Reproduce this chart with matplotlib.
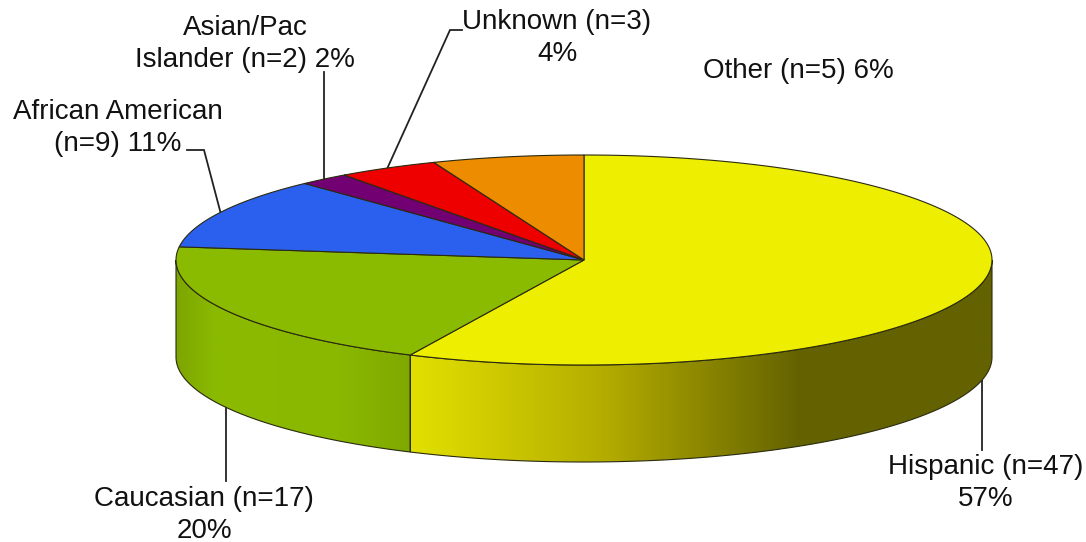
#!/usr/bin/env python3

"""
Ethnicity breakdown - fake 3D pie, drawn in pixel coordinates
"""

import numpy as np
import matplotlib
matplotlib.use("Agg")
import matplotlib.pyplot as plt
from matplotlib.colors import LinearSegmentedColormap
from matplotlib.patches import Polygon

plt.rcParams['font.family'] = ['Liberation Sans', 'DejaVu Sans']

# data, clockwise from 12 o'clock
categories = ["Hispanic", "Caucasian", "African American", "Asian/Pac Islander", "Unknown", "Other"]
counts = [47, 17, 9, 2, 3, 5]
percents = [57, 20, 11, 2, 4, 6]
top_colors = ["#EEEE00", "#8BBB00", "#2B5FEE", "#720072", "#EE0000", "#EE8C00"]

# side shading, (x pixel, colour)
hispanic_side = [(410, "#E2E000"), (600, "#B5AE00"), (700, "#8C8800"), (800, "#646200"), (992, "#646200")]
caucasian_side = [(176, "#7DA500"), (215, "#8ABA00"), (340, "#8AB800"), (412, "#7FA800")]

CX, CY = 584, 260
RX, RY = 408, 105
DEPTH = 97
FONT = 20.0
EDGE = "#2a2a10"
LEADER = "#222222"


def rim(angles):
    a = np.radians(angles)
    return CX + RX * np.sin(a), CY - RY * np.cos(a)


def arc(a1, a2):
    return rim(np.linspace(a1, a2, 200))


def draw_side(ax, a1, a2, stops):
    x, y = arc(a1, a2)
    verts = np.column_stack([np.r_[x, x[::-1]], np.r_[y, y[::-1] + DEPTH]])
    poly = Polygon(verts, closed=True, facecolor="none", edgecolor=EDGE, linewidth=0.8, zorder=3)
    ax.add_patch(poly)

    x0, x1 = stops[0][0], stops[-1][0]
    cmap = LinearSegmentedColormap.from_list(
        "side", [((px - x0) / (x1 - x0), c) for px, c in stops])
    im = ax.imshow(np.linspace(0, 1, 512).reshape(1, -1), cmap=cmap, aspect="auto",
                   extent=(x0, x1, 480, 150), zorder=2)
    im.set_clip_path(poly)


def leader(ax, *points):
    xs, ys = zip(*points)
    ax.plot(xs, ys, color=LEADER, linewidth=1.3, zorder=1, solid_joinstyle="miter")


fig = plt.figure(figsize=(10.86, 5.42), dpi=100)
fig.patch.set_facecolor('white')
ax = fig.add_axes([0, 0, 1, 1])

edges = np.cumsum([0] + percents) / sum(percents) * 360
mids = (edges[:-1] + edges[1:]) / 2

draw_side(ax, 90, edges[1], hispanic_side)
draw_side(ax, edges[1], 270, caucasian_side)

for i, color in enumerate(top_colors):
    x, y = arc(edges[i], edges[i + 1])
    verts = np.column_stack([np.r_[CX, x], np.r_[CY, y]])
    ax.add_patch(Polygon(verts, closed=True, facecolor=color, edgecolor=EDGE,
                         linewidth=0.8, zorder=4))

# leaders start on the rim at the middle of each slice
hx, hy = rim(mids[0])
leader(ax, (hx, hy + DEPTH), (hx, 450))
cx_, cy_ = rim(mids[1])
leader(ax, (cx_, cy_ + DEPTH), (cx_, 481))
leader(ax, rim(mids[2]), (204, 150), (187, 150))
leader(ax, rim(mids[3]), (rim(mids[3])[0], 72))
leader(ax, rim(mids[4]), (450, 30), (462, 30))

labels = [
    (986, 483, f"{categories[0]} (n={counts[0]})\n{percents[0]}%"),
    (204, 515, f"{categories[1]} (n={counts[1]})\n{percents[1]}%"),
    (118, 128, f"African American\n(n={counts[2]}) {percents[2]}%"),
    (245, 44, f"Asian/Pac\nIslander (n={counts[3]}) {percents[3]}%"),
    (557, 38, f"{categories[4]} (n={counts[4]})\n{percents[4]}%"),
    (798, 71, f"{categories[5]} (n={counts[5]}) {percents[5]}%"),
]
for x, y, s in labels:
    ax.text(x, y, s, ha='center', va='center', fontsize=FONT, color="#111111",
            linespacing=1.3, zorder=5)

ax.set_xlim(0, 1086)
ax.set_ylim(542, 0)
ax.axis('off')

plt.savefig("out.png", dpi=100, facecolor='white')
plt.close()
